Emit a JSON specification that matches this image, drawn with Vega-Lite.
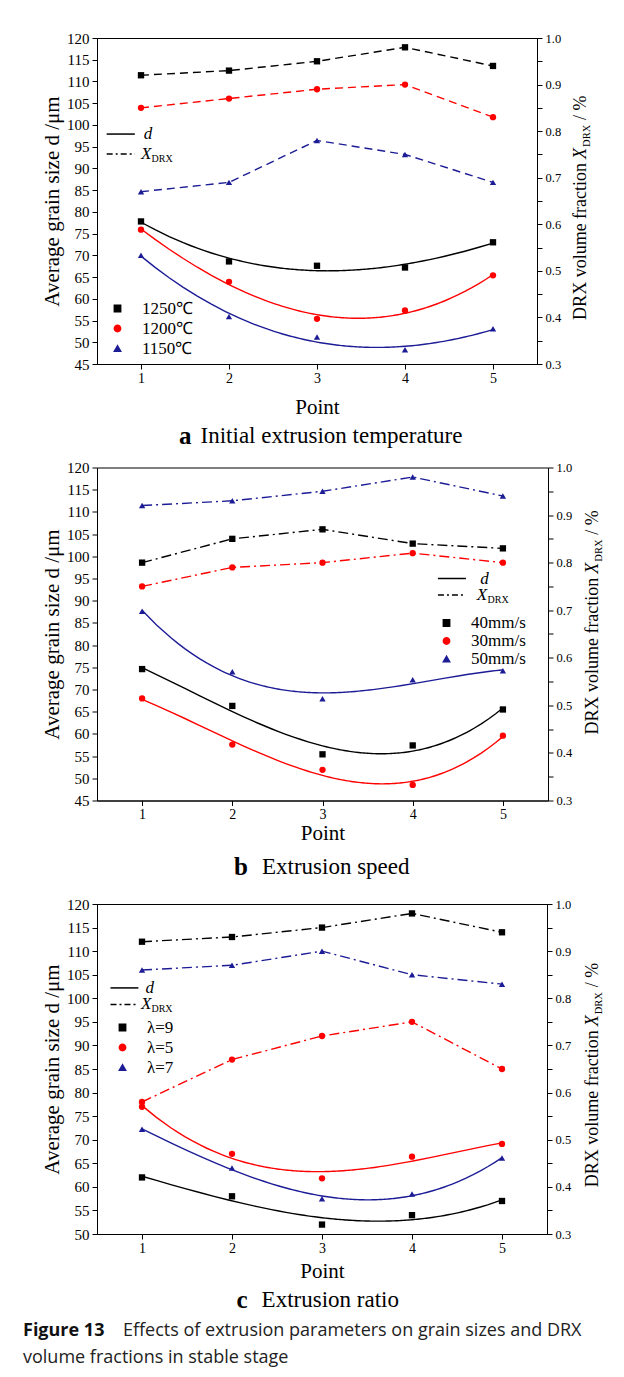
{
  "$schema": "https://vega.github.io/schema/vega-lite/v6.json",
  "autosize": {"type": "pad", "resize": false},
  "padding": {"left": 22, "top": 30, "right": 4, "bottom": 6},
  "background": "#ffffff",
  "bounds": "flush",
  "spacing": 103.5,
  "resolve": {"scale": {"color": "independent", "shape": "independent"}, "legend": {"color": "independent", "shape": "independent"}},
  "config": {
    "font": "Liberation Serif",
    "view": {"stroke": "#000000", "strokeWidth": 1},
    "axis": {"grid": false, "labelOverlap": false, "domainColor": "#000000", "tickColor": "#000000", "labelColor": "#000000", "titleColor": "#000000", "labelFont": "Liberation Serif", "titleFont": "Liberation Serif", "titleFontWeight": "normal", "tickSize": 5, "domainWidth": 1, "tickWidth": 1},
    "legend": {"labelFont": "Liberation Serif"},
    "text": {"font": "Liberation Serif", "color": "#000000"}
  },
  "datasets": {
    "a": [
      {"series": "1250℃", "point": 1, "d": 77.8, "x": 0.92},
      {"series": "1250℃", "point": 2, "d": 68.6, "x": 0.93},
      {"series": "1250℃", "point": 3, "d": 67.6, "x": 0.95},
      {"series": "1250℃", "point": 4, "d": 67.2, "x": 0.98},
      {"series": "1250℃", "point": 5, "d": 73.0, "x": 0.94},
      {"series": "1200℃", "point": 1, "d": 75.9, "x": 0.85},
      {"series": "1200℃", "point": 2, "d": 63.9, "x": 0.87},
      {"series": "1200℃", "point": 3, "d": 55.4, "x": 0.89},
      {"series": "1200℃", "point": 4, "d": 57.3, "x": 0.90},
      {"series": "1200℃", "point": 5, "d": 65.4, "x": 0.83},
      {"series": "1150℃", "point": 1, "d": 70.0, "x": 0.67},
      {"series": "1150℃", "point": 2, "d": 55.9, "x": 0.69},
      {"series": "1150℃", "point": 3, "d": 51.2, "x": 0.78},
      {"series": "1150℃", "point": 4, "d": 48.3, "x": 0.75},
      {"series": "1150℃", "point": 5, "d": 53.1, "x": 0.69}
    ],
    "b": [
      {"series": "40mm/s", "point": 1, "d": 74.6, "x": 0.80},
      {"series": "40mm/s", "point": 2, "d": 66.3, "x": 0.85},
      {"series": "40mm/s", "point": 3, "d": 55.4, "x": 0.87},
      {"series": "40mm/s", "point": 4, "d": 57.4, "x": 0.84},
      {"series": "40mm/s", "point": 5, "d": 65.5, "x": 0.83},
      {"series": "30mm/s", "point": 1, "d": 68.0, "x": 0.75},
      {"series": "30mm/s", "point": 2, "d": 57.6, "x": 0.79},
      {"series": "30mm/s", "point": 3, "d": 51.9, "x": 0.80},
      {"series": "30mm/s", "point": 4, "d": 48.5, "x": 0.82},
      {"series": "30mm/s", "point": 5, "d": 59.6, "x": 0.80},
      {"series": "50mm/s", "point": 1, "d": 87.6, "x": 0.92},
      {"series": "50mm/s", "point": 2, "d": 74.0, "x": 0.93},
      {"series": "50mm/s", "point": 3, "d": 67.9, "x": 0.95},
      {"series": "50mm/s", "point": 4, "d": 72.2, "x": 0.98},
      {"series": "50mm/s", "point": 5, "d": 74.2, "x": 0.94}
    ],
    "c": [
      {"series": "λ=9", "point": 1, "d": 62.0, "x": 0.92},
      {"series": "λ=9", "point": 2, "d": 58.0, "x": 0.93},
      {"series": "λ=9", "point": 3, "d": 52.0, "x": 0.95},
      {"series": "λ=9", "point": 4, "d": 54.0, "x": 0.98},
      {"series": "λ=9", "point": 5, "d": 57.0, "x": 0.94},
      {"series": "λ=5", "point": 1, "d": 77.0, "x": 0.58},
      {"series": "λ=5", "point": 2, "d": 67.0, "x": 0.67},
      {"series": "λ=5", "point": 3, "d": 61.8, "x": 0.72},
      {"series": "λ=5", "point": 4, "d": 66.4, "x": 0.75},
      {"series": "λ=5", "point": 5, "d": 69.1, "x": 0.65},
      {"series": "λ=7", "point": 1, "d": 72.2, "x": 0.86},
      {"series": "λ=7", "point": 2, "d": 64.0, "x": 0.87},
      {"series": "λ=7", "point": 3, "d": 57.5, "x": 0.90},
      {"series": "λ=7", "point": 4, "d": 58.5, "x": 0.85},
      {"series": "λ=7", "point": 5, "d": 66.1, "x": 0.83}
    ]
  },
  "vconcat": [
    {
      "width": 440, "height": 326,
      "data": {"name": "a"},
      "encoding": {"x": {"field": "point", "type": "quantitative", "scale": {"domain": [0.5, 5.5], "nice": false, "zero": false}, "axis": {"values": [1, 2, 3, 4, 5], "format": "d", "labelOverlap": false, "title": "Point", "titleFont": "Liberation Serif", "labelFont": "Liberation Serif", "titleFontSize": 21, "titlePadding": 11, "labelFontSize": 14, "labelPadding": 2}}},
      "resolve": {"scale": {"y": "independent"}},
      "layer": [
        {
          "layer": [
            {
              "mark": {"type": "point", "filled": true, "opacity": 1, "size": 40},
              "encoding": {
                "y": {"field": "d", "type": "quantitative", "scale": {"domain": [45, 120], "nice": false, "zero": false}, "axis": {"values": [45,50,55,60,65,70,75,80,85,90,95,100,105,110,115,120], "tickCount": 50, "labelOverlap": false, "title": "Average grain size d /μm", "titleFont": "Liberation Serif", "labelFont": "Liberation Serif", "titleFontSize": 21, "titlePadding": 4, "labelFontSize": 15, "labelPadding": 3}},
                "color": {"field": "series", "type": "nominal", "scale": {"domain": ["1250℃", "1200℃", "1150℃"], "range": ["#000000", "#ff0000", "#1c1c96"]}, "legend": {"orient": "none", "legendX": 12, "legendY": 262, "title": null, "labelFont": "Liberation Serif", "labelFontSize": 17, "labelColor": "#000000", "labelOffset": 16, "rowPadding": 2, "symbolSize": 40, "padding": 0}},
                "shape": {"field": "series", "type": "nominal", "scale": {"domain": ["1250℃", "1200℃", "1150℃"], "range": ["square", "circle", "triangle-up"]}, "legend": {"orient": "none", "legendX": 12, "legendY": 262, "title": null, "labelFont": "Liberation Serif", "labelFontSize": 17, "labelColor": "#000000", "labelOffset": 16, "rowPadding": 2, "symbolSize": 40, "padding": 0}}
              }
            },
            {
              "transform": [{"regression": "d", "on": "point", "groupby": ["series"], "method": "poly", "order": 3, "extent": [1, 5]}],
              "mark": {"type": "line", "strokeWidth": 1.4},
              "encoding": {
                "y": {"field": "d", "type": "quantitative", "scale": {"domain": [45, 120], "nice": false, "zero": false}, "axis": {"values": [45,50,55,60,65,70,75,80,85,90,95,100,105,110,115,120], "tickCount": 50, "labelOverlap": false, "title": "Average grain size d /μm", "titleFont": "Liberation Serif", "labelFont": "Liberation Serif", "titleFontSize": 21, "titlePadding": 4, "labelFontSize": 15, "labelPadding": 3}},
                "color": {"field": "series", "type": "nominal", "scale": {"domain": ["1250℃", "1200℃", "1150℃"], "range": ["#000000", "#ff0000", "#1c1c96"]}, "legend": null}
              }
            },
            {
              "transform": [{"filter": "datum.point == 1 && datum.series == '1250℃'"}],
              "layer": [
                {"mark": {"type": "rule", "color": "#000000", "strokeWidth": 1.5},
                 "encoding": {"x": {"datum": 0.61, "type": "quantitative"}, "x2": {"datum": 0.93}, "y": {"datum": 97.9, "type": "quantitative"}}},
                {"mark": {"type": "rule", "color": "#000000", "strokeWidth": 1.5, "strokeDash": [6, 3, 2, 3]},
                 "encoding": {"x": {"datum": 0.61, "type": "quantitative"}, "x2": {"datum": 0.93}, "y": {"datum": 93.3, "type": "quantitative"}}},
                {"mark": {"type": "text", "text": "d", "fontStyle": "italic", "fontSize": 17, "align": "left", "baseline": "middle"},
                 "encoding": {"x": {"datum": 1.03, "type": "quantitative"}, "y": {"datum": 97.9, "type": "quantitative"}}},
                {"mark": {"type": "text", "text": "X", "fontStyle": "italic", "fontSize": 17, "align": "left", "baseline": "middle"},
                 "encoding": {"x": {"datum": 1.0, "type": "quantitative"}, "y": {"datum": 93.3, "type": "quantitative"}}},
                {"mark": {"type": "text", "text": "DRX", "fontSize": 10, "align": "left", "baseline": "middle", "dy": 5},
                 "encoding": {"x": {"datum": 1.12, "type": "quantitative"}, "y": {"datum": 93.3, "type": "quantitative"}}},
                {"mark": {"type": "text", "text": "a", "fontWeight": "bold", "fontSize": 25, "align": "right", "baseline": "middle", "dx": -4, "dy": 72},
                 "encoding": {"x": {"datum": 1.62, "type": "quantitative"}, "y": {"datum": 45, "type": "quantitative"}}},
                {"mark": {"type": "text", "text": "Initial extrusion temperature", "fontSize": 23, "align": "left", "baseline": "middle", "dx": 5, "dy": 72},
                 "encoding": {"x": {"datum": 1.62, "type": "quantitative"}, "y": {"datum": 45, "type": "quantitative"}}}
              ]
            }
          ]
        },
        {
          "layer": [
            {
              "mark": {"type": "line", "strokeWidth": 1.4, "strokeDash": [8, 5]},
              "encoding": {
                "y": {"field": "x", "type": "quantitative", "scale": {"domain": [0.3, 1.0], "nice": false, "zero": false}, "axis": {"orient": "right", "values": [0.3,0.35,0.4,0.45,0.5,0.55,0.6,0.65,0.7,0.75,0.8,0.85,0.9,0.95,1.0], "tickCount": 50, "labelOverlap": false, "labelExpr": "abs(datum.value*10 - round(datum.value*10)) < 0.01 ? format(datum.value, '.1f') : ''", "title": null, "labelFont": "Liberation Serif", "labelFontSize": 12.5, "labelPadding": 3}},
                "color": {"field": "series", "type": "nominal", "scale": {"domain": ["1250℃", "1200℃", "1150℃"], "range": ["#000000", "#ff0000", "#1c1c96"]}, "legend": null}
              }
            },
            {
              "mark": {"type": "point", "filled": true, "opacity": 1, "size": 40},
              "encoding": {
                "y": {"field": "x", "type": "quantitative", "scale": {"domain": [0.3, 1.0], "nice": false, "zero": false}, "axis": {"orient": "right", "values": [0.3,0.35,0.4,0.45,0.5,0.55,0.6,0.65,0.7,0.75,0.8,0.85,0.9,0.95,1.0], "tickCount": 50, "labelOverlap": false, "labelExpr": "abs(datum.value*10 - round(datum.value*10)) < 0.01 ? format(datum.value, '.1f') : ''", "title": null, "labelFont": "Liberation Serif", "labelFontSize": 12.5, "labelPadding": 3}},
                "color": {"field": "series", "type": "nominal", "scale": {"domain": ["1250℃", "1200℃", "1150℃"], "range": ["#000000", "#ff0000", "#1c1c96"]}, "legend": null},
                "shape": {"field": "series", "type": "nominal", "scale": {"domain": ["1250℃", "1200℃", "1150℃"], "range": ["square", "circle", "triangle-up"]}, "legend": null}
              }
            },
            {
              "transform": [{"filter": "datum.point == 1 && datum.series == '1250℃'"}],
              "layer": [
                {"mark": {"type": "text", "text": "X", "fontStyle": "italic", "fontSize": 18, "align": "right", "baseline": "alphabetic", "angle": 270, "dy": 49},
                 "encoding": {"x": {"datum": 5.5, "type": "quantitative"}, "y": {"datum": 0.764, "type": "quantitative"}}},
                {"mark": {"type": "text", "text": "DRX volume fraction", "fontSize": 18, "align": "right", "baseline": "alphabetic", "angle": 270, "dx": -15, "dy": 49},
                 "encoding": {"x": {"datum": 5.5, "type": "quantitative"}, "y": {"datum": 0.764, "type": "quantitative"}}},
                {"mark": {"type": "text", "text": "DRX", "fontSize": 10.5, "align": "left", "baseline": "alphabetic", "angle": 270, "dx": 1, "dy": 53},
                 "encoding": {"x": {"datum": 5.5, "type": "quantitative"}, "y": {"datum": 0.764, "type": "quantitative"}}},
                {"mark": {"type": "text", "text": "/ %", "fontSize": 18, "align": "left", "baseline": "alphabetic", "angle": 270, "dx": 28, "dy": 49},
                 "encoding": {"x": {"datum": 5.5, "type": "quantitative"}, "y": {"datum": 0.764, "type": "quantitative"}}}
              ]
            }
          ]
        }
      ]
    },
    {
      "width": 451, "height": 333,
      "data": {"name": "b"},
      "encoding": {"x": {"field": "point", "type": "quantitative", "scale": {"domain": [0.5, 5.5], "nice": false, "zero": false}, "axis": {"values": [1, 2, 3, 4, 5], "format": "d", "labelOverlap": false, "title": "Point", "titleFont": "Liberation Serif", "labelFont": "Liberation Serif", "titleFontSize": 21, "titlePadding": 1, "labelFontSize": 14, "labelPadding": 2}}},
      "resolve": {"scale": {"y": "independent"}},
      "layer": [
        {
          "layer": [
            {
              "mark": {"type": "point", "filled": true, "opacity": 1, "size": 40},
              "encoding": {
                "y": {"field": "d", "type": "quantitative", "scale": {"domain": [45, 120], "nice": false, "zero": false}, "axis": {"values": [45,50,55,60,65,70,75,80,85,90,95,100,105,110,115,120], "tickCount": 50, "labelOverlap": false, "title": "Average grain size d /μm", "titleFont": "Liberation Serif", "labelFont": "Liberation Serif", "titleFontSize": 21, "titlePadding": 4, "labelFontSize": 15, "labelPadding": 3}},
                "color": {"field": "series", "type": "nominal", "scale": {"domain": ["40mm/s", "30mm/s", "50mm/s"], "range": ["#000000", "#ff0000", "#1c1c96"]}, "legend": {"orient": "none", "legendX": 341, "legendY": 147, "title": null, "labelFont": "Liberation Serif", "labelFontSize": 17, "labelColor": "#000000", "labelOffset": 16, "rowPadding": 0, "symbolSize": 40, "padding": 0}},
                "shape": {"field": "series", "type": "nominal", "scale": {"domain": ["40mm/s", "30mm/s", "50mm/s"], "range": ["square", "circle", "triangle-up"]}, "legend": {"orient": "none", "legendX": 341, "legendY": 147, "title": null, "labelFont": "Liberation Serif", "labelFontSize": 17, "labelColor": "#000000", "labelOffset": 16, "rowPadding": 0, "symbolSize": 40, "padding": 0}}
              }
            },
            {
              "transform": [{"regression": "d", "on": "point", "groupby": ["series"], "method": "poly", "order": 3, "extent": [1, 5]}],
              "mark": {"type": "line", "strokeWidth": 1.4},
              "encoding": {
                "y": {"field": "d", "type": "quantitative", "scale": {"domain": [45, 120], "nice": false, "zero": false}, "axis": {"values": [45,50,55,60,65,70,75,80,85,90,95,100,105,110,115,120], "tickCount": 50, "labelOverlap": false, "title": "Average grain size d /μm", "titleFont": "Liberation Serif", "labelFont": "Liberation Serif", "titleFontSize": 21, "titlePadding": 4, "labelFontSize": 15, "labelPadding": 3}},
                "color": {"field": "series", "type": "nominal", "scale": {"domain": ["40mm/s", "30mm/s", "50mm/s"], "range": ["#000000", "#ff0000", "#1c1c96"]}, "legend": null}
              }
            },
            {
              "transform": [{"filter": "datum.point == 1 && datum.series == '40mm/s'"}],
              "layer": [
                {"mark": {"type": "rule", "color": "#000000", "strokeWidth": 1.5},
                 "encoding": {"x": {"datum": 4.28, "type": "quantitative"}, "x2": {"datum": 4.59}, "y": {"datum": 95.0, "type": "quantitative"}}},
                {"mark": {"type": "rule", "color": "#000000", "strokeWidth": 1.5, "strokeDash": [6, 3, 2, 3]},
                 "encoding": {"x": {"datum": 4.28, "type": "quantitative"}, "x2": {"datum": 4.59}, "y": {"datum": 91.3, "type": "quantitative"}}},
                {"mark": {"type": "text", "text": "d", "fontStyle": "italic", "fontSize": 17, "align": "left", "baseline": "middle"},
                 "encoding": {"x": {"datum": 4.75, "type": "quantitative"}, "y": {"datum": 95.0, "type": "quantitative"}}},
                {"mark": {"type": "text", "text": "X", "fontStyle": "italic", "fontSize": 17, "align": "left", "baseline": "middle"},
                 "encoding": {"x": {"datum": 4.71, "type": "quantitative"}, "y": {"datum": 91.3, "type": "quantitative"}}},
                {"mark": {"type": "text", "text": "DRX", "fontSize": 10, "align": "left", "baseline": "middle", "dy": 5},
                 "encoding": {"x": {"datum": 4.83, "type": "quantitative"}, "y": {"datum": 91.3, "type": "quantitative"}}},
                {"mark": {"type": "text", "text": "b", "fontWeight": "bold", "fontSize": 25, "align": "right", "baseline": "middle", "dx": -6, "dy": 66},
                 "encoding": {"x": {"datum": 2.24, "type": "quantitative"}, "y": {"datum": 45, "type": "quantitative"}}},
                {"mark": {"type": "text", "text": "Extrusion speed", "fontSize": 23, "align": "left", "baseline": "middle", "dx": 8, "dy": 66},
                 "encoding": {"x": {"datum": 2.24, "type": "quantitative"}, "y": {"datum": 45, "type": "quantitative"}}}
              ]
            }
          ]
        },
        {
          "layer": [
            {
              "mark": {"type": "line", "strokeWidth": 1.4, "strokeDash": [10, 4, 2, 4]},
              "encoding": {
                "y": {"field": "x", "type": "quantitative", "scale": {"domain": [0.3, 1.0], "nice": false, "zero": false}, "axis": {"orient": "right", "values": [0.3,0.35,0.4,0.45,0.5,0.55,0.6,0.65,0.7,0.75,0.8,0.85,0.9,0.95,1.0], "tickCount": 50, "labelOverlap": false, "labelExpr": "abs(datum.value*10 - round(datum.value*10)) < 0.01 ? format(datum.value, '.1f') : ''", "title": null, "labelFont": "Liberation Serif", "labelFontSize": 12.5, "labelPadding": 3}},
                "color": {"field": "series", "type": "nominal", "scale": {"domain": ["40mm/s", "30mm/s", "50mm/s"], "range": ["#000000", "#ff0000", "#1c1c96"]}, "legend": null}
              }
            },
            {
              "mark": {"type": "point", "filled": true, "opacity": 1, "size": 40},
              "encoding": {
                "y": {"field": "x", "type": "quantitative", "scale": {"domain": [0.3, 1.0], "nice": false, "zero": false}, "axis": {"orient": "right", "values": [0.3,0.35,0.4,0.45,0.5,0.55,0.6,0.65,0.7,0.75,0.8,0.85,0.9,0.95,1.0], "tickCount": 50, "labelOverlap": false, "labelExpr": "abs(datum.value*10 - round(datum.value*10)) < 0.01 ? format(datum.value, '.1f') : ''", "title": null, "labelFont": "Liberation Serif", "labelFontSize": 12.5, "labelPadding": 3}},
                "color": {"field": "series", "type": "nominal", "scale": {"domain": ["40mm/s", "30mm/s", "50mm/s"], "range": ["#000000", "#ff0000", "#1c1c96"]}, "legend": null},
                "shape": {"field": "series", "type": "nominal", "scale": {"domain": ["40mm/s", "30mm/s", "50mm/s"], "range": ["square", "circle", "triangle-up"]}, "legend": null}
              }
            },
            {
              "transform": [{"filter": "datum.point == 1 && datum.series == '40mm/s'"}],
              "layer": [
                {"mark": {"type": "text", "text": "X", "fontStyle": "italic", "fontSize": 18, "align": "right", "baseline": "alphabetic", "angle": 270, "dy": 50},
                 "encoding": {"x": {"datum": 5.5, "type": "quantitative"}, "y": {"datum": 0.80, "type": "quantitative"}}},
                {"mark": {"type": "text", "text": "DRX volume fraction", "fontSize": 18, "align": "right", "baseline": "alphabetic", "angle": 270, "dx": -15, "dy": 50},
                 "encoding": {"x": {"datum": 5.5, "type": "quantitative"}, "y": {"datum": 0.80, "type": "quantitative"}}},
                {"mark": {"type": "text", "text": "DRX", "fontSize": 10.5, "align": "left", "baseline": "alphabetic", "angle": 270, "dx": 1, "dy": 54},
                 "encoding": {"x": {"datum": 5.5, "type": "quantitative"}, "y": {"datum": 0.80, "type": "quantitative"}}},
                {"mark": {"type": "text", "text": "/ %", "fontSize": 18, "align": "left", "baseline": "alphabetic", "angle": 270, "dx": 28, "dy": 50},
                 "encoding": {"x": {"datum": 5.5, "type": "quantitative"}, "y": {"datum": 0.80, "type": "quantitative"}}}
              ]
            }
          ]
        }
      ]
    },
    {
      "width": 450, "height": 330,
      "data": {"name": "c"},
      "encoding": {"x": {"field": "point", "type": "quantitative", "scale": {"domain": [0.5, 5.5], "nice": false, "zero": false}, "axis": {"values": [1, 2, 3, 4, 5], "format": "d", "labelOverlap": false, "title": "Point", "titleFont": "Liberation Serif", "labelFont": "Liberation Serif", "titleFontSize": 21, "titlePadding": 5, "labelFontSize": 14, "labelPadding": 2}}},
      "resolve": {"scale": {"y": "independent"}},
      "layer": [
        {
          "layer": [
            {
              "mark": {"type": "point", "filled": true, "opacity": 1, "size": 40},
              "encoding": {
                "y": {"field": "d", "type": "quantitative", "scale": {"domain": [50, 120], "nice": false, "zero": false}, "axis": {"values": [50,55,60,65,70,75,80,85,90,95,100,105,110,115,120], "tickCount": 50, "labelOverlap": false, "title": "Average grain size d /μm", "titleFont": "Liberation Serif", "labelFont": "Liberation Serif", "titleFontSize": 21, "titlePadding": 4, "labelFontSize": 15, "labelPadding": 3}},
                "color": {"field": "series", "type": "nominal", "scale": {"domain": ["λ=9", "λ=5", "λ=7"], "range": ["#000000", "#ff0000", "#1c1c96"]}, "legend": {"orient": "none", "legendX": 17, "legendY": 115, "title": null, "labelFont": "Liberation Serif", "labelFontSize": 17, "labelColor": "#000000", "labelOffset": 16, "rowPadding": 2, "symbolSize": 40, "padding": 0}},
                "shape": {"field": "series", "type": "nominal", "scale": {"domain": ["λ=9", "λ=5", "λ=7"], "range": ["square", "circle", "triangle-up"]}, "legend": {"orient": "none", "legendX": 17, "legendY": 115, "title": null, "labelFont": "Liberation Serif", "labelFontSize": 17, "labelColor": "#000000", "labelOffset": 16, "rowPadding": 2, "symbolSize": 40, "padding": 0}}
              }
            },
            {
              "transform": [{"regression": "d", "on": "point", "groupby": ["series"], "method": "poly", "order": 3, "extent": [1, 5]}],
              "mark": {"type": "line", "strokeWidth": 1.4},
              "encoding": {
                "y": {"field": "d", "type": "quantitative", "scale": {"domain": [50, 120], "nice": false, "zero": false}, "axis": {"values": [50,55,60,65,70,75,80,85,90,95,100,105,110,115,120], "tickCount": 50, "labelOverlap": false, "title": "Average grain size d /μm", "titleFont": "Liberation Serif", "labelFont": "Liberation Serif", "titleFontSize": 21, "titlePadding": 4, "labelFontSize": 15, "labelPadding": 3}},
                "color": {"field": "series", "type": "nominal", "scale": {"domain": ["λ=9", "λ=5", "λ=7"], "range": ["#000000", "#ff0000", "#1c1c96"]}, "legend": null}
              }
            },
            {
              "transform": [{"filter": "datum.point == 1 && datum.series == 'λ=9'"}],
              "layer": [
                {"mark": {"type": "rule", "color": "#000000", "strokeWidth": 1.5},
                 "encoding": {"x": {"datum": 0.65, "type": "quantitative"}, "x2": {"datum": 0.96}, "y": {"datum": 102.2, "type": "quantitative"}}},
                {"mark": {"type": "rule", "color": "#000000", "strokeWidth": 1.5, "strokeDash": [6, 3, 2, 3]},
                 "encoding": {"x": {"datum": 0.65, "type": "quantitative"}, "x2": {"datum": 0.96}, "y": {"datum": 98.7, "type": "quantitative"}}},
                {"mark": {"type": "text", "text": "d", "fontStyle": "italic", "fontSize": 17, "align": "left", "baseline": "middle"},
                 "encoding": {"x": {"datum": 1.04, "type": "quantitative"}, "y": {"datum": 102.2, "type": "quantitative"}}},
                {"mark": {"type": "text", "text": "X", "fontStyle": "italic", "fontSize": 17, "align": "left", "baseline": "middle"},
                 "encoding": {"x": {"datum": 0.99, "type": "quantitative"}, "y": {"datum": 98.7, "type": "quantitative"}}},
                {"mark": {"type": "text", "text": "DRX", "fontSize": 10, "align": "left", "baseline": "middle", "dy": 5},
                 "encoding": {"x": {"datum": 1.105, "type": "quantitative"}, "y": {"datum": 98.7, "type": "quantitative"}}},
                {"mark": {"type": "text", "text": "c", "fontWeight": "bold", "fontSize": 25, "align": "right", "baseline": "middle", "dx": -6, "dy": 66},
                 "encoding": {"x": {"datum": 2.24, "type": "quantitative"}, "y": {"datum": 50, "type": "quantitative"}}},
                {"mark": {"type": "text", "text": "Extrusion ratio", "fontSize": 23, "align": "left", "baseline": "middle", "dx": 8, "dy": 66},
                 "encoding": {"x": {"datum": 2.24, "type": "quantitative"}, "y": {"datum": 50, "type": "quantitative"}}},
                {"mark": {"type": "text", "text": "Figure 13", "font": "Open Sans", "fontWeight": "bold", "fontSize": 18, "color": "#111111", "align": "left", "baseline": "middle", "dx": -74, "dy": 97},
                 "encoding": {"x": {"datum": 0.5, "type": "quantitative"}, "y": {"datum": 50, "type": "quantitative"}}},
                {"mark": {"type": "text", "text": "Effects of extrusion parameters on grain sizes and DRX", "font": "Open Sans", "fontSize": 18, "color": "#222222", "align": "left", "baseline": "middle", "dx": 26, "dy": 97},
                 "encoding": {"x": {"datum": 0.5, "type": "quantitative"}, "y": {"datum": 50, "type": "quantitative"}}},
                {"mark": {"type": "text", "text": "volume fractions in stable stage", "font": "Open Sans", "fontSize": 18, "color": "#222222", "align": "left", "baseline": "middle", "dx": -74, "dy": 124},
                 "encoding": {"x": {"datum": 0.5, "type": "quantitative"}, "y": {"datum": 50, "type": "quantitative"}}}
              ]
            }
          ]
        },
        {
          "layer": [
            {
              "mark": {"type": "line", "strokeWidth": 1.4, "strokeDash": [10, 4, 2, 4]},
              "encoding": {
                "y": {"field": "x", "type": "quantitative", "scale": {"domain": [0.3, 1.0], "nice": false, "zero": false}, "axis": {"orient": "right", "values": [0.3,0.35,0.4,0.45,0.5,0.55,0.6,0.65,0.7,0.75,0.8,0.85,0.9,0.95,1.0], "tickCount": 50, "labelOverlap": false, "labelExpr": "abs(datum.value*10 - round(datum.value*10)) < 0.01 ? format(datum.value, '.1f') : ''", "title": null, "labelFont": "Liberation Serif", "labelFontSize": 12.5, "labelPadding": 3}},
                "color": {"field": "series", "type": "nominal", "scale": {"domain": ["λ=9", "λ=5", "λ=7"], "range": ["#000000", "#ff0000", "#1c1c96"]}, "legend": null}
              }
            },
            {
              "mark": {"type": "point", "filled": true, "opacity": 1, "size": 40},
              "encoding": {
                "y": {"field": "x", "type": "quantitative", "scale": {"domain": [0.3, 1.0], "nice": false, "zero": false}, "axis": {"orient": "right", "values": [0.3,0.35,0.4,0.45,0.5,0.55,0.6,0.65,0.7,0.75,0.8,0.85,0.9,0.95,1.0], "tickCount": 50, "labelOverlap": false, "labelExpr": "abs(datum.value*10 - round(datum.value*10)) < 0.01 ? format(datum.value, '.1f') : ''", "title": null, "labelFont": "Liberation Serif", "labelFontSize": 12.5, "labelPadding": 3}},
                "color": {"field": "series", "type": "nominal", "scale": {"domain": ["λ=9", "λ=5", "λ=7"], "range": ["#000000", "#ff0000", "#1c1c96"]}, "legend": null},
                "shape": {"field": "series", "type": "nominal", "scale": {"domain": ["λ=9", "λ=5", "λ=7"], "range": ["square", "circle", "triangle-up"]}, "legend": null}
              }
            },
            {
              "transform": [{"filter": "datum.point == 1 && datum.series == 'λ=9'"}],
              "layer": [
                {"mark": {"type": "text", "text": "X", "fontStyle": "italic", "fontSize": 18, "align": "right", "baseline": "alphabetic", "angle": 270, "dy": 51},
                 "encoding": {"x": {"datum": 5.5, "type": "quantitative"}, "y": {"datum": 0.764, "type": "quantitative"}}},
                {"mark": {"type": "text", "text": "DRX volume fraction", "fontSize": 18, "align": "right", "baseline": "alphabetic", "angle": 270, "dx": -15, "dy": 51},
                 "encoding": {"x": {"datum": 5.5, "type": "quantitative"}, "y": {"datum": 0.764, "type": "quantitative"}}},
                {"mark": {"type": "text", "text": "DRX", "fontSize": 10.5, "align": "left", "baseline": "alphabetic", "angle": 270, "dx": 1, "dy": 55},
                 "encoding": {"x": {"datum": 5.5, "type": "quantitative"}, "y": {"datum": 0.764, "type": "quantitative"}}},
                {"mark": {"type": "text", "text": "/ %", "fontSize": 18, "align": "left", "baseline": "alphabetic", "angle": 270, "dx": 28, "dy": 51},
                 "encoding": {"x": {"datum": 5.5, "type": "quantitative"}, "y": {"datum": 0.764, "type": "quantitative"}}}
              ]
            }
          ]
        }
      ]
    }
  ]
}
